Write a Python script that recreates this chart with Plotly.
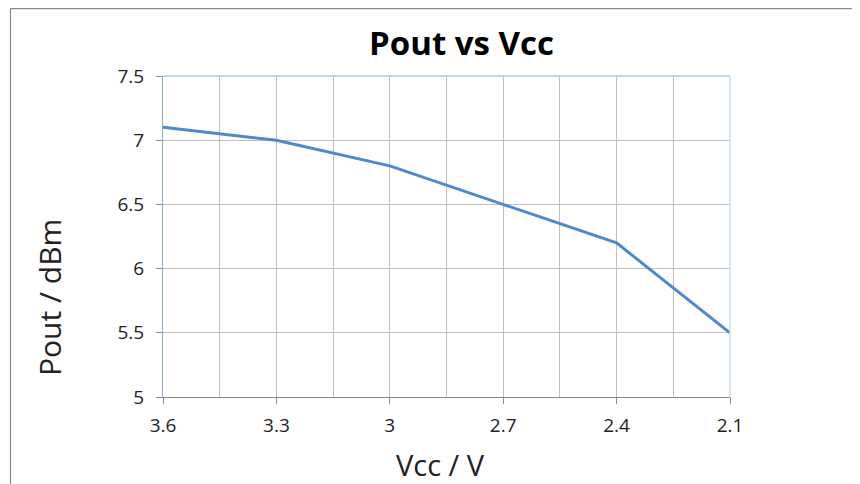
import plotly.graph_objects as go

categories = ["3.6", "3.3", "3", "2.7", "2.4", "2.1"]
pout = [7.1, 7.0, 6.8, 6.5, 6.2, 5.5]
y_ticks = [5, 5.5, 6, 6.5, 7, 7.5]
y_tick_labels = ["5", "5.5", "6", "6.5", "7", "7.5"]

OFF = 8  # page body margin
W, H = 860, 484
L, R, T, B = 163 - OFF, 730 - OFF, 76 - OFF, 397 - OFF
pw, ph = R - L, B - T

def px(x):  # screenshot x -> paper
    return (x - OFF - L) / pw

def py(y):  # screenshot y -> paper
    return (B - (y - OFF)) / ph

xpos = list(range(len(categories)))
font = "Open Sans, Liberation Sans, sans-serif"

fig = go.Figure(go.Scatter(
    x=xpos, y=pout, mode="lines",
    line=dict(color="#4F89CB", width=3),
    showlegend=False, cliponaxis=False,
))

fig.update_layout(
    width=W, height=H,
    margin=dict(l=L, r=W - R, t=T, b=H - B),
    paper_bgcolor="white", plot_bgcolor="white",
    title=dict(text="<b>Pout vs Vcc</b>", x=453.5 / W, xanchor="center",
               y=1 - 35 / H, yanchor="middle",
               font=dict(family=font, size=33, color="#000")),
    xaxis=dict(
        range=[0, len(categories) - 1],
        tickvals=xpos, ticktext=categories,
        ticks="outside", ticklen=6, tickcolor="#888",
        showline=True, linecolor="#888", linewidth=1,
        showgrid=True, gridcolor="#C0C0C0", gridwidth=1,
        minor=dict(tickvals=[i + 0.5 for i in range(len(categories) - 1)],
                   showgrid=True, gridcolor="#C0C0C0", ticklen=0),
        tickfont=dict(family=font, size=19, color="#222"),
        ticklabelstandoff=5,
        zeroline=False,
    ),
    yaxis=dict(
        range=[5, 7.5],
        tickvals=y_ticks, ticktext=y_tick_labels,
        ticks="outside", ticklen=6, tickcolor="#888",
        showline=True, linecolor="#8FA9C9", linewidth=1,
        showgrid=True, gridcolor="#C0C0C0", gridwidth=1,
        tickfont=dict(family=font, size=19, color="#222"),
        ticklabelstandoff=8,
        zeroline=False,
    ),
    annotations=[
        dict(text="Vcc / V", xref="paper", yref="paper", x=px(440), y=py(464),
             xanchor="center", yanchor="middle", showarrow=False,
             font=dict(family=font, size=29, color="#222")),
        dict(text="Pout / dBm", xref="paper", yref="paper", x=px(49), y=py(298),
             xanchor="center", yanchor="middle", showarrow=False, textangle=-90,
             font=dict(family=font, size=30, color="#222")),
    ],
    shapes=[
        dict(type="line", xref="paper", yref="paper", x0=0, x1=1, y0=1, y1=1,
             line=dict(color="#A9C9EE", width=1.5)),
        dict(type="line", xref="paper", yref="paper", x0=1, x1=1, y0=0, y1=1,
             line=dict(color="#C6DCF2", width=1.5)),
        dict(type="line", xref="paper", yref="paper", x0=px(10.5), x1=px(W + 20), y0=py(8.6), y1=py(8.6),
             line=dict(color="#8A8A8A", width=1.2)),
        dict(type="line", xref="paper", yref="paper", x0=px(10.5), x1=px(10.5), y0=py(8.6), y1=py(H + 20),
             line=dict(color="#8A8A8A", width=1.2)),
    ],
)

fig.write_html("out.html")
